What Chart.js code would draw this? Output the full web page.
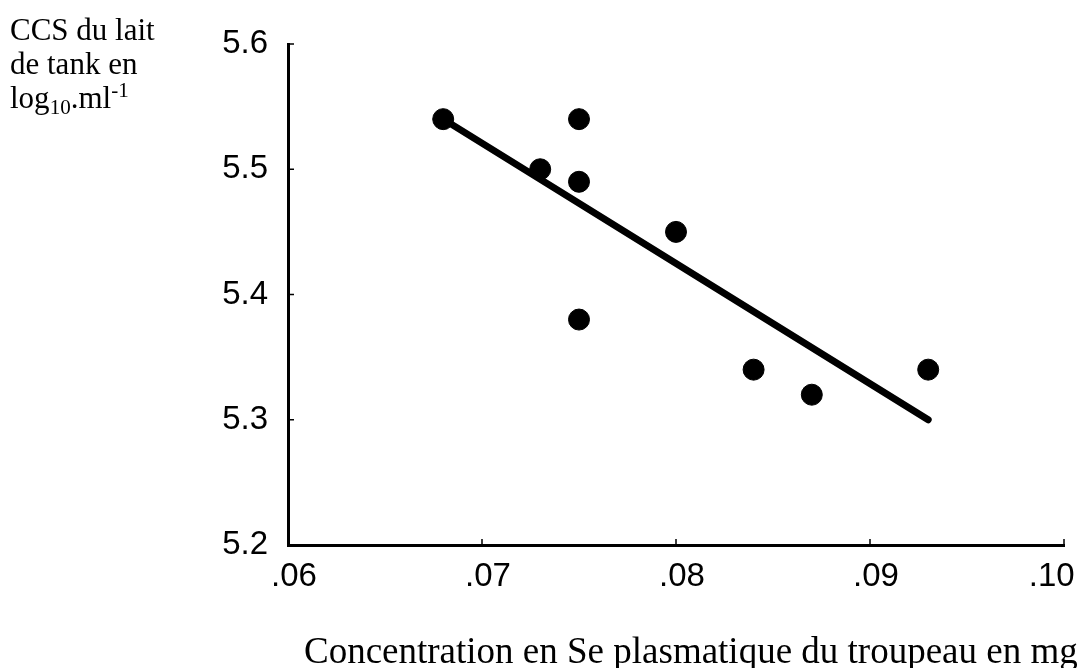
<!DOCTYPE html>
<html>
<head>
<meta charset="utf-8">
<script src="https://cdn.jsdelivr.net/npm/chart.js@4"></script>
<style>
  html, body { margin: 0; padding: 0; background: #fff; }
  #wrap { position: relative; width: 1084px; height: 668px; }
  #chart { position: absolute; left: 0; top: 0; }
  .lbl { position: absolute; font-family: "Liberation Serif", "Times New Roman", serif; color: #000; white-space: nowrap; }
  #ylab { left: 10px; top: 13px; font-size: 31px; line-height: 34px; }
  #xlab { left: 304px; top: 632px; font-size: 37px; line-height: 37px; }
  .sub { font-size: 0.68em; position: relative; top: 0.28em; line-height: 0; }
  .sup { font-size: 0.68em; position: relative; top: -0.5em; line-height: 0; }
</style>
</head>
<body>
<div id="wrap">
  <canvas id="chart" width="1084" height="668"></canvas>
  <div class="lbl" id="ylab">CCS du lait<br>de tank en<br>log<span class="sub">10</span>.ml<span class="sup">-1</span></div>
  <div class="lbl" id="xlab">Concentration en Se plasmatique du troupeau en mg</div>
</div>
<script>
// concentration en Se plasmatique (mg) et CCS du lait de tank (log10/ml)
const seValues = [0.068, 0.073, 0.075, 0.075, 0.075, 0.080, 0.084, 0.087, 0.093];
const ccsValues = [5.54, 5.50, 5.54, 5.49, 5.38, 5.45, 5.34, 5.32, 5.34];

// droite de régression
const fitX = [0.068, 0.093];
const fitY = [5.54, 5.30];

const xTicks = [0.06, 0.07, 0.08, 0.09, 0.10];
const yTicks = [5.2, 5.3, 5.4, 5.5, 5.6];

const tickFont = { family: '"Liberation Sans", Arial, sans-serif', size: 33 };

// petites graduations tournées vers l'intérieur du graphe
const innerTicksPlugin = {
  id: 'innerTicks',
  afterDatasetsDraw(chart) {
    const { ctx, scales: { x, y } } = chart;
    ctx.save();
    ctx.strokeStyle = '#000';
    ctx.lineWidth = 1.5;
    ctx.beginPath();
    xTicks.slice(1).forEach(v => {
      const px = x.getPixelForValue(v);
      ctx.moveTo(px, y.bottom);
      ctx.lineTo(px, y.bottom - 6);
    });
    yTicks.slice(1).forEach(v => {
      const py = y.getPixelForValue(v);
      ctx.moveTo(x.left, py);
      ctx.lineTo(x.left + 6, py);
    });
    ctx.stroke();
    ctx.restore();
  }
};

new Chart(document.getElementById('chart'), {
  type: 'scatter',
  data: {
    datasets: [
      {
        label: 'Troupeaux',
        data: seValues.map((x, i) => ({ x: x, y: ccsValues[i] })),
        backgroundColor: '#000',
        borderColor: '#000',
        pointRadius: 10.5,
        pointHoverRadius: 10.5
      },
      {
        type: 'line',
        label: 'Régression',
        data: fitX.map((x, i) => ({ x: x, y: fitY[i] })),
        borderColor: '#000',
        borderWidth: 7,
        borderCapStyle: 'round',
        pointRadius: 0,
        fill: false
      }
    ]
  },
  plugins: [innerTicksPlugin],
  options: {
    responsive: false,
    animation: false,
    layout: { padding: { top: 44, right: 20, left: 0, bottom: 0 } },
    plugins: {
      legend: { display: false },
      tooltip: { enabled: false }
    },
    scales: {
      x: {
        type: 'linear',
        min: 0.06,
        max: 0.10,
        afterBuildTicks: axis => { axis.ticks = xTicks.map(v => ({ value: v })); },
        afterFit: axis => {
          axis.height = 123;
          axis.paddingLeft = 0;
          axis.paddingRight = 0;
        },
        ticks: {
          color: '#000',
          font: tickFont,
          padding: 12,
          labelOffset: 6,
          maxRotation: 0,
          // le dernier libellé est décalé vers la gauche comme dans la figure
          callback: v => {
            const s = v.toFixed(2).replace(/^0/, '');
            return v > 0.099 ? s + '    ' : s;
          }
        },
        grid: { display: false, drawTicks: false },
        border: { display: true, color: '#000', width: 3 }
      },
      y: {
        type: 'linear',
        min: 5.2,
        max: 5.6,
        afterBuildTicks: axis => { axis.ticks = yTicks.map(v => ({ value: v })); },
        afterFit: axis => { axis.width = 288; },
        ticks: {
          color: '#000',
          font: tickFont,
          padding: 20,
          callback: v => v.toFixed(1)
        },
        grid: { display: false, drawTicks: false },
        border: { display: true, color: '#000', width: 3 }
      }
    }
  }
});
</script>
</body>
</html>
